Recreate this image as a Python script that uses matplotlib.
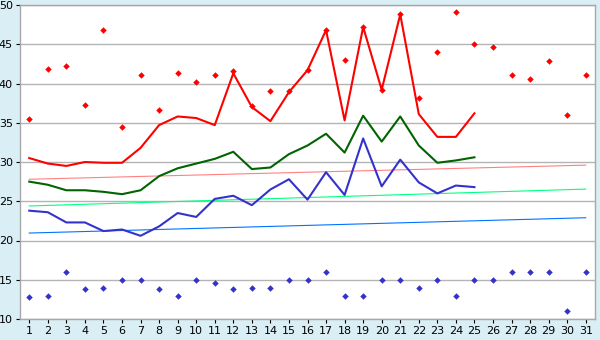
import matplotlib
matplotlib.use("Agg")
import matplotlib.pyplot as plt
import numpy as np

days = list(range(1, 32))
line_days = list(range(1, 26))

max_points = [35.5, 41.8, 42.2, 37.3, 46.8, 34.5, 41.1, 36.6, 41.3, 40.2,
              41.1, 41.6, 37.1, 39.0, 39.0, 41.7, 46.8, 43.0, 47.2, 39.2,
              48.9, 38.2, 44.0, 49.1, 45.0, 44.6, 41.1, 40.6, 42.9, 36.0, 41.1]
min_points = [12.8, 12.9, 16.0, 13.8, 14.0, 15.0, 15.0, 13.8, 12.9, 15.0,
              14.6, 13.8, 14.0, 14.0, 15.0, 15.0, 16.0, 12.9, 12.9, 15.0,
              15.0, 14.0, 15.0, 12.9, 15.0, 15.0, 16.0, 16.0, 16.0, 11.0, 16.0]

red_line = [30.5, 29.8, 29.5, 30.0, 29.9, 29.9, 31.8, 34.7, 35.8, 35.6,
            34.7, 41.3, 37.0, 35.2, 38.9, 41.7, 46.8, 35.3, 47.2, 39.2,
            48.8, 36.1, 33.2, 33.2, 36.2]
green_line = [27.5, 27.1, 26.4, 26.4, 26.2, 25.9, 26.4, 28.2, 29.2, 29.8,
              30.4, 31.3, 29.1, 29.3, 31.0, 32.1, 33.6, 31.2, 35.9, 32.6,
              35.8, 32.1, 29.9, 30.2, 30.6]
blue_line = [23.8, 23.6, 22.3, 22.3, 21.2, 21.4, 20.6, 21.8, 23.5, 23.0,
             25.3, 25.7, 24.5, 26.5, 27.8, 25.2, 28.7, 25.8, 33.0, 26.9,
             30.3, 27.4, 26.0, 27.0, 26.8]

trend_days = [1, 31]
trend_high = [27.8, 29.6]
trend_mean = [24.4, 26.55]
trend_low = [20.95, 22.9]

yticks = [10, 15, 20, 25, 30, 35, 40, 45, 50]

fig = plt.figure(figsize=(6, 3.4), dpi=100, facecolor="#d9eef5")
ax = fig.add_axes([20 / 600, 21 / 340, 575 / 600, 314 / 340])
ax.set_facecolor("white")

ax.plot(trend_days, trend_high, color="#ff8080", lw=0.8, zorder=2)
ax.plot(trend_days, trend_mean, color="#00ff80", lw=0.8, zorder=2)
ax.plot(trend_days, trend_low, color="#0073ff", lw=0.8, zorder=2)

ax.plot(line_days, red_line, color="#ff0000", lw=1.5, zorder=3)
ax.plot(line_days, green_line, color="#006400", lw=1.5, zorder=3)
ax.plot(line_days, blue_line, color="#3333cc", lw=1.5, zorder=3)

ax.plot(days, max_points, ls="none", marker="D", ms=3.3, color="#ff0000",
        mew=0, zorder=4)
ax.plot(days, min_points, ls="none", marker="D", ms=3.3, color="#3333cc",
        mew=0, zorder=4)

ax.set_xlim(0.5, 31.5)
ax.set_ylim(10, 50)
ax.set_xticks(days)
ax.set_xticklabels([str(d) for d in days])
ax.set_yticks(yticks)
ax.set_yticklabels([str(v) for v in yticks])
ax.grid(axis="y", color="#b4b4b4", lw=1.0)
ax.set_axisbelow(True)
for s in ax.spines.values():
    s.set_color("#a8a8a8")
    s.set_linewidth(1.0)
ax.tick_params(axis="both", direction="out", length=3, width=0.8,
               color="black", labelsize=8, pad=2)

fig.savefig("out.png", dpi=100, facecolor=fig.get_facecolor())
